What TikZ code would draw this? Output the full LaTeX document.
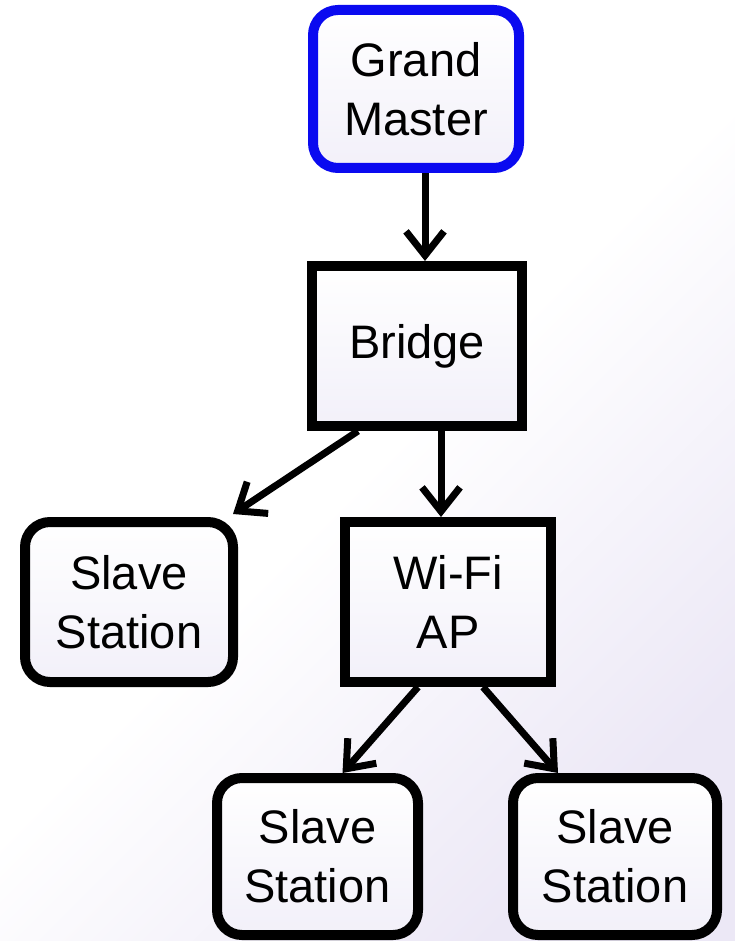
\documentclass[tikz,border=0pt]{standalone}
\usepackage{fontspec}
\setmainfont{Liberation Sans}
\usetikzlibrary{arrows.meta,calc}
\definecolor{lav}{RGB}{236,232,246}
\definecolor{lavn}{RGB}{242,240,249}
\definecolor{gmblue}{RGB}{10,10,240}
\begin{document}
\begin{tikzpicture}[x=1pt,y=-1pt,
  box/.style={draw=black, line width=10pt, top color=white, bottom color=lavn,
    font=\fontsize{47}{59}\selectfont, align=center, inner sep=0pt},
  rbox/.style={box, rounded corners=25pt},
  conn/.style={line width=7pt, -{Straight Barb[length=24pt,width=38pt,line width=7pt]}}]
\shade[shading=axis, top color=white, bottom color=lav, middle color=white, shading angle=45] (0,0) rectangle (735,941);
\useasboundingbox (0,0) rectangle (735,941);
\node[rbox, draw=gmblue, minimum width=206pt, minimum height=158pt] (gm) at (416,89) {Grand\\Master};
\node[box, minimum width=210pt, minimum height=160pt] (br) at (417,346) {Bridge};
\node[rbox, minimum width=208pt, minimum height=160pt] (sl) at (129,602) {Slave\\Station};
\node[box, minimum width=206pt, minimum height=160pt] (wf) at (448,602) {Wi-Fi\\AP};
\node[rbox, minimum width=201pt, minimum height=157pt] (bl) at (317.5,856.5) {Slave\\Station};
\node[rbox, minimum width=204pt, minimum height=157pt] (bb) at (615,856.5) {Slave\\Station};
\draw[conn] ([xshift=9pt]gm.south) -- ([xshift=9pt]gm.south |- br.north);
\draw[conn] ([xshift=-59pt]br.south) -- ([shift={(-5pt,3pt)}]sl.north east);
\draw[conn] ([xshift=24pt]br.south) -- ([xshift=24pt]br.south |- wf.north);
\draw[conn] ([xshift=-30pt]wf.south) -- ([xshift=25pt]bl.north);
\draw[conn] ([xshift=35pt]wf.south) -- ([xshift=-57pt]bb.north);
\end{tikzpicture}
\end{document}
